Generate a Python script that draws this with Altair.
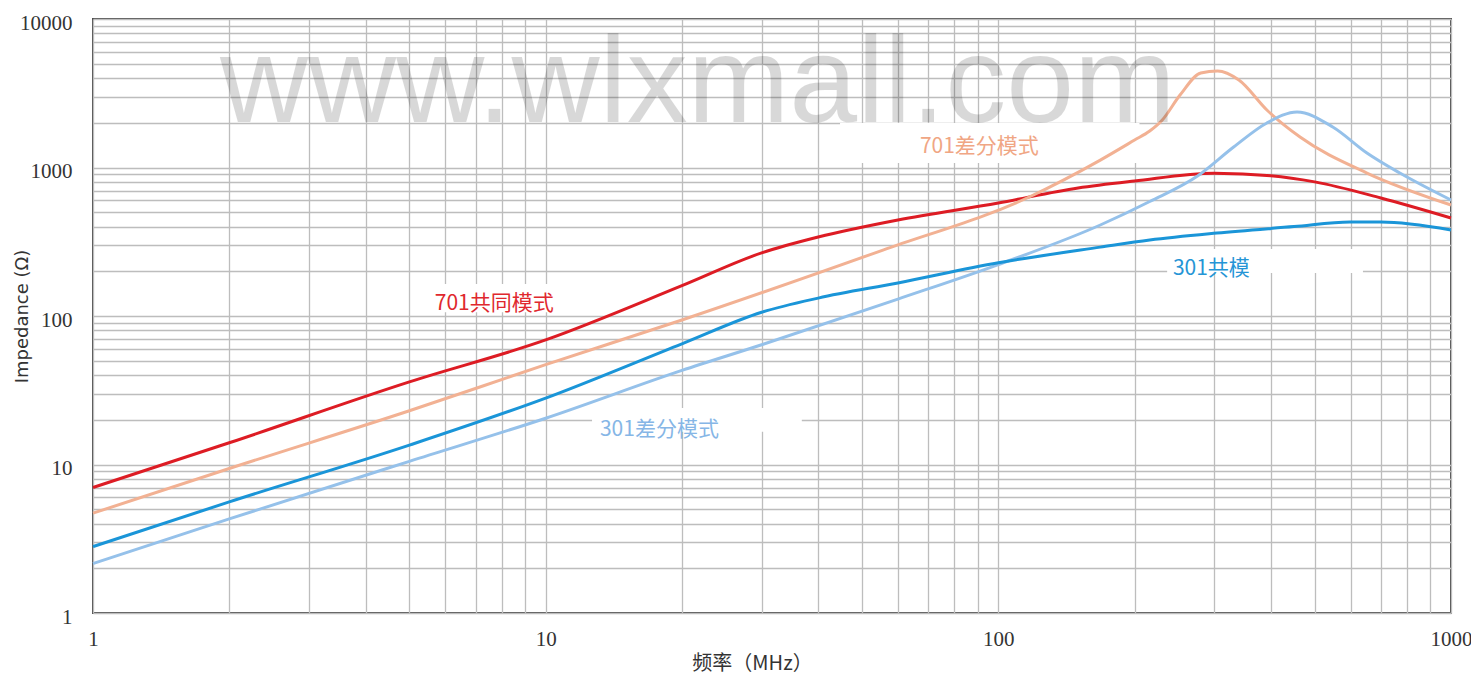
import altair as alt
import pandas as pd

# ---- data (frequency MHz, impedance ohm) ----
f_701cm = [1, 2, 5, 10, 20, 30, 40, 60, 100, 150, 200, 300, 400, 500, 700, 1000]
z_701cm = [7.0, 14, 36, 69, 160, 266, 340, 443, 577, 728, 811, 915, 880, 800, 623, 457]

f_701dm = [1, 2, 5, 10, 20, 55.6, 117, 168, 200, 216, 230, 252, 280, 305, 340, 392, 464, 652, 1000]
z_701dm = [4.7, 9.4, 23, 47, 94, 278, 633, 1122, 1531, 1760, 2080, 3076, 4327, 4467, 3882, 2438, 1604, 918, 559]

f_301dm = [1, 2, 5, 10, 20, 30, 60, 100, 168, 216, 276, 331, 392, 457, 548, 652, 771, 1000]
z_301dm = [2.15, 4.3, 10.5, 20.5, 43, 64, 130, 222, 410, 590, 880, 1374, 1995, 2365, 1875, 1253, 918, 604]

f_301cm = [1, 2, 5, 10, 20, 30, 40, 60, 100, 168, 216, 304, 450, 598, 700, 1000]
z_301cm = [2.8, 5.6, 13.5, 28, 65, 106, 132, 167, 228, 291, 325, 362, 400, 430, 430, 380]

series_names = ["701共同模式", "701差分模式", "301差分模式", "301共模"]
series_colors = ["#dd1c24", "#f2b193", "#95c1ea", "#1a95d8"]
label_colors = ["#e0282e", "#f0a684", "#86b6e6", "#2595d6"]

# curve labels (anchor at left / vertical middle)
label_f = [5.69, 67.1, 13.18, 243]
label_z = [120, 1380, 17.1, 207]
# white label background boxes
box_f0 = [5.28, 44.7, 12.66, 236]
box_f1 = [13.2, 205, 36.8, 639]
box_z0 = [106, 1073, 16.6, 195]
box_z1 = [164, 1995, 24, 283]

x_ticks = [1, 10, 100, 1000]
y_ticks = [1, 10, 100, 1000, 10000]
x_grid = [k * 10 ** d for d in range(0, 3) for k in range(1, 10)] + [1000]
y_grid = [k * 10 ** d for d in range(0, 4) for k in range(1, 10)] + [10000]

watermark = "www.wlxmall.com"

rows = []
for name, fs, zs in zip(series_names, [f_701cm, f_701dm, f_301dm, f_301cm],
                        [z_701cm, z_701dm, z_301dm, z_301cm]):
    for i, (f, z) in enumerate(zip(fs, zs)):
        rows.append({"series": name, "f": f, "z": z, "i": i})
df = pd.DataFrame(rows)

lab = pd.DataFrame({"text": series_names, "f": label_f, "z": label_z,
                    "color": label_colors, "f0": box_f0, "f1": box_f1,
                    "z0": box_z0, "z1": box_z1})

xscale = alt.Scale(type="log", domain=[1, 1000], nice=False)
yscale = alt.Scale(type="log", domain=[1, 10000], nice=False)

x_label_expr = "indexof(%s, datum.value) >= 0 ? format(datum.value, 'd') : ''" % str(x_ticks)
y_label_expr = "indexof(%s, datum.value) >= 0 ? format(datum.value, 'd') : ''" % str(y_ticks)

xaxis = alt.Axis(values=x_grid, labelExpr=x_label_expr, title="频率（MHz）",
                 grid=True, ticks=False, tickSize=0, domain=False,
                 labelFont="Liberation Serif", labelFontSize=21, labelColor="#333333",
                 labelPadding=15, labelFlush=False, labelOverlap=False,
                 titleFont="Noto Sans CJK SC", titleFontSize=20, titleFontWeight="normal",
                 titleColor="#333333", titleX=659, titleY=50, titleBaseline="middle")
yaxis = alt.Axis(values=y_grid, labelExpr=y_label_expr, title="Impedance (Ω)",
                 grid=True, ticks=False, tickSize=0, domain=False,
                 labelFont="Liberation Serif", labelFontSize=21, labelColor="#333333",
                 labelPadding=21, labelOffset=4, labelFlush=False, labelOverlap=False,
                 titleFont="DejaVu Sans", titleFontSize=18, titleFontWeight="normal",
                 titleColor="#333333", titleX=-71, titleY=297, titleBaseline="middle",
                 titleAlign="center", titleAngle=270)

color_scale = alt.Scale(domain=series_names, range=series_colors)

boxes = alt.Chart(lab).mark_rect(color="white").encode(
    x=alt.X("f0:Q", scale=xscale, axis=xaxis),
    x2="f1:Q",
    y=alt.Y("z0:Q", scale=yscale, axis=yaxis),
    y2="z1:Q",
)

lines = alt.Chart(df).mark_line(strokeWidth=3, interpolate="monotone").encode(
    x=alt.X("f:Q", scale=xscale, axis=xaxis),
    y=alt.Y("z:Q", scale=yscale, axis=yaxis),
    color=alt.Color("series:N", scale=color_scale, legend=None),
    detail="series:N",
    order="i:Q",
)

labels = alt.Chart(lab).mark_text(align="left", baseline="middle",
                                  font="Noto Sans CJK SC", fontSize=21).encode(
    x=alt.X("f:Q", scale=xscale),
    y=alt.Y("z:Q", scale=yscale),
    text="text:N",
    color=alt.Color("color:N", scale=None),
)

wm = alt.Chart(pd.DataFrame({"t": [watermark]})).mark_text(
    align="left", baseline="alphabetic", font="Liberation Sans", fontSize=122,
    color="#000000", opacity=0.15
).encode(x=alt.value(127), y=alt.value(103), text="t:N")

chart = alt.layer(boxes, lines, labels, wm).properties(
    width=1358, height=594,
    autosize=alt.AutoSizeParams(type="none"),
    padding={"left": 85, "top": 11, "right": 20, "bottom": 63},
).configure_view(
    stroke="#4d4d4d", strokeWidth=2
).configure_axis(
    gridColor="#bdbdbd", gridWidth=1.3
)

chart.save("out.html", embed_options={"renderer": "svg", "actions": False})
